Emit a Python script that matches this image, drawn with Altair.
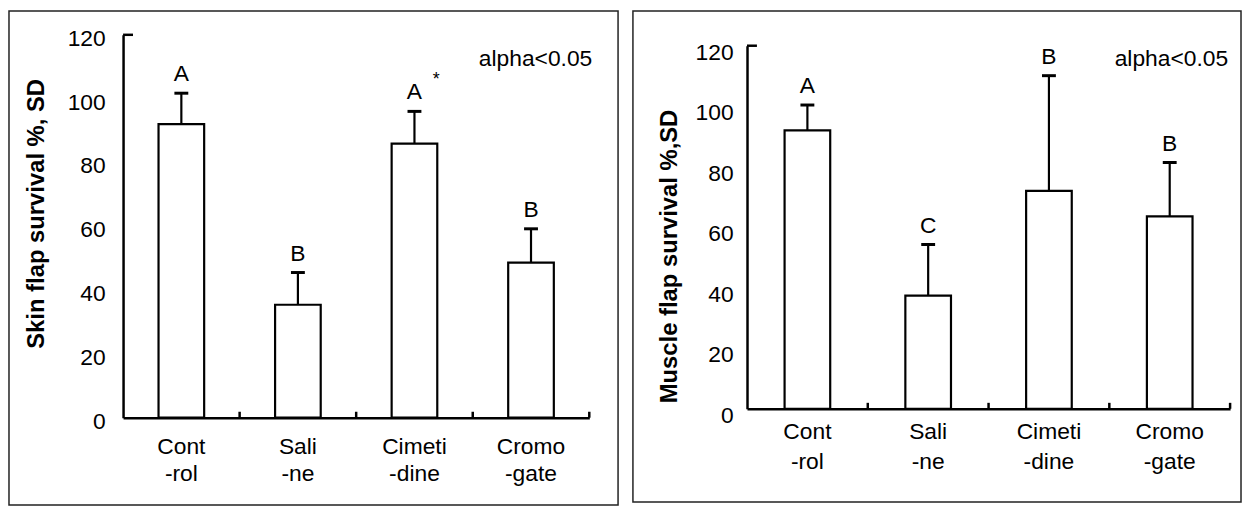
import altair as alt
import pandas as pd

FONT = "Liberation Sans"

categories = ["Cont|-rol", "Sali|-ne", "Cimeti|-dine", "Cromo|-gate"]
y_ticks = [0, 20, 40, 60, 80, 100, 120]

skin_mean = [92.0, 35.4, 85.9, 48.6]
skin_sd = [9.7, 10.1, 10.1, 10.6]
skin_letters = ["A", "B", "A", "B"]
skin_stars = ["", "", "*", ""]

muscle_mean = [92.0, 37.4, 72.0, 63.6]
muscle_sd = [8.4, 16.9, 38.1, 17.8]
muscle_letters = ["A", "C", "B", "B"]
muscle_stars = ["", "", "", ""]

alpha_text = ["alpha<0.05"]

FS = 23


def panel(mean, sd, letters, stars, title, W, H, yrange, lab_pad, lab_off,
          title_x, title_y, x_lab_pad, x_line_h, frame, alpha_xy):
    df = pd.DataFrame({
        "cat": categories,
        "mean": mean,
        "top": [m + s for m, s in zip(mean, sd)],
        "letter": letters,
        "star": stars,
    })
    xaxis = alt.Axis(title=None, labelAngle=0, labelExpr="split(datum.value, '|')",
                     ticks=False, domainWidth=2.5, domainColor="black",
                     labelFont=FONT, labelFontSize=FS, labelColor="black",
                     labelPadding=x_lab_pad, labelLineHeight=x_line_h)
    xscale = alt.Scale(paddingInner=0, paddingOuter=0)

    def X(**kw):
        return alt.X("cat:N", sort=categories, scale=xscale, axis=xaxis, **kw)

    yscale = alt.Scale(domain=[0, 120], range=yrange, nice=False)
    yaxis = alt.Axis(values=y_ticks, title=title, grid=False, ticks=False,
                     domainWidth=2.5, domainColor="black",
                     labelFont=FONT, labelFontSize=FS, labelColor="black",
                     labelPadding=lab_pad, labelOffset=lab_off,
                     titleFont=FONT, titleFontSize=24, titleFontWeight="bold",
                     titleColor="black", titleX=title_x, titleY=title_y,
                     titleAlign="center", titleBaseline="middle")

    def Y(field):
        return alt.Y(field, scale=yscale, axis=yaxis)

    base = alt.Chart(df)
    fx1, fx2, fy1, fy2 = frame
    frame_layer = alt.Chart(pd.DataFrame({"k": [0]})).mark_rect(
        fill="white", fillOpacity=0, stroke="#222", strokeWidth=1.5
    ).encode(x=alt.value(fx1), x2=alt.value(fx2), y=alt.value(fy1), y2=alt.value(fy2))

    bars = base.mark_bar(size=46, fill="white", stroke="black", strokeWidth=2.2).encode(
        x=X(), y=Y("mean:Q"))
    stems = base.mark_rule(color="black", strokeWidth=2.2).encode(
        x=X(), y=Y("mean:Q"), y2="top:Q")
    caps = base.mark_tick(color="black", size=14, thickness=3, opacity=1).encode(
        x=X(), y=Y("top:Q"))
    lets = base.mark_text(font=FONT, fontSize=FS, color="black", dy=-12,
                          baseline="alphabetic").encode(x=X(), y=Y("top:Q"), text="letter:N")
    star = base.mark_text(font=FONT, fontSize=18, color="black", dx=22, dy=-27,
                          baseline="alphabetic").encode(x=X(), y=Y("top:Q"), text="star:N")
    xt_mid = base.transform_filter(alt.datum.cat != categories[0]).mark_rule(
        color="black", strokeWidth=2.5).encode(
        x=X(bandPosition=0), y=alt.value(H), y2=alt.value(H - 6))
    xt_end = base.transform_filter(alt.datum.cat == categories[-1]).mark_rule(
        color="black", strokeWidth=2.5).encode(
        x=X(bandPosition=1), y=alt.value(H), y2=alt.value(H - 6))
    ycap = alt.Chart(pd.DataFrame({"v": [120]})).mark_rule(
        color="black", strokeWidth=2.5).encode(
        y=Y("v:Q"), x=alt.value(0), x2=alt.value(10))
    alpha = alt.Chart(pd.DataFrame({"t": alpha_text})).mark_text(
        font=FONT, fontSize=FS, color="black", align="right", baseline="alphabetic"
    ).encode(x=alt.value(alpha_xy[0]), y=alt.value(alpha_xy[1]), text="t:N")

    return alt.layer(frame_layer, bars, stems, caps, lets, star, xt_mid, xt_end,
                     ycap, alpha).properties(width=W, height=H)


left = panel(skin_mean, skin_sd, skin_letters, skin_stars,
             "Skin flap survival %, SD", 470, 386, [386, 0],
             18, 3.5, -87, 180, 18, 27,
             (-115, 499, -24, 474), (473, 31))
right = panel(muscle_mean, muscle_sd, muscle_letters, muscle_stars,
              "Muscle flap survival %,SD", 487, 377, [377, 11],
              14, 6.5, -78, 223, 12, 30,
              (-115, 498, -24, 471), (485, 31))

chart = alt.hconcat(left, right, spacing=13).properties(
    padding=0, background="white"
).configure_view(stroke=None)

chart.save("out.html", embed_options={"renderer": "svg", "actions": False})
